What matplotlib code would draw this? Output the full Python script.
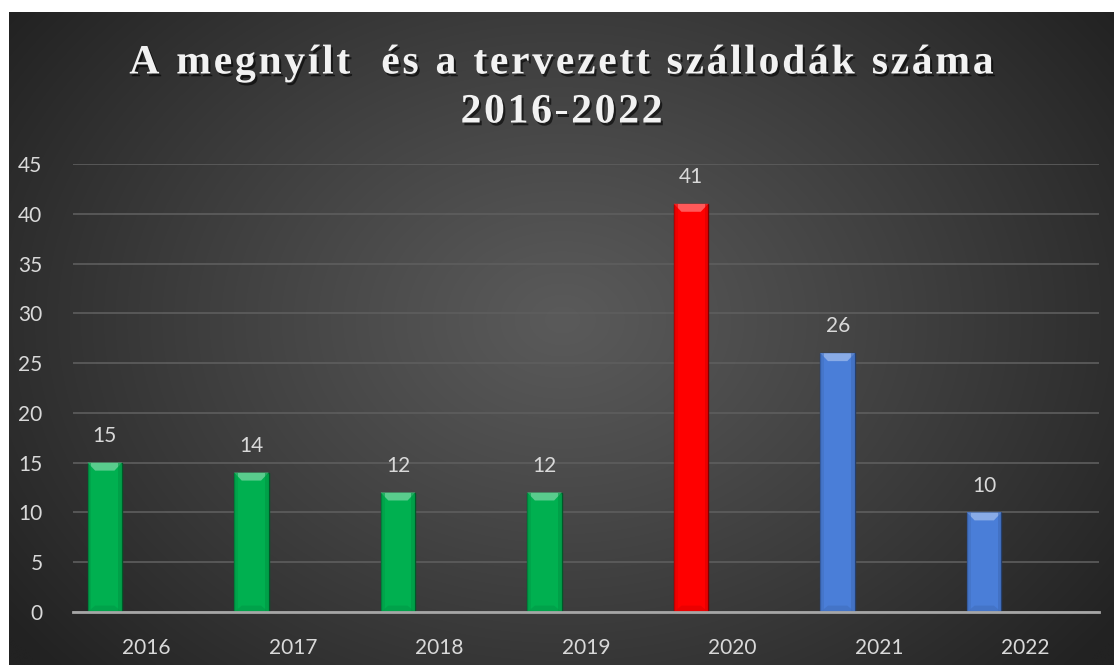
import numpy as np
import matplotlib
matplotlib.use("Agg")
import matplotlib.pyplot as plt
from matplotlib.patches import Polygon
import matplotlib.patheffects as pe
from matplotlib.colors import to_rgb

years = ["2016", "2017", "2018", "2019", "2020", "2021", "2022"]
values = [15, 14, 12, 12, 41, 26, 10]
bar_colors = ["#00B050", "#00B050", "#00B050", "#00B050", "#FF0000", "#4A7ED8", "#4A7ED8"]
title_lines = ["A megnyílt  és a tervezett szállodák száma", "2016-2022"]
yticks = [0, 5, 10, 15, 20, 25, 30, 35, 40, 45]

W, H = 1114, 665
fig = plt.figure(figsize=(W / 100, H / 100), dpi=100, facecolor="white")

# background panel with radial gradient
bg_left, bg_top = 9, 12
bg = fig.add_axes([bg_left / W, 0, 1 - bg_left / W, (H - bg_top) / H])
bg.set_axis_off()
ny, nx = 300, 500
yy, xx = np.mgrid[0:ny, 0:nx]
cx, cy = nx * 0.5, ny * 0.47
d = np.sqrt(((xx - cx) / (nx * 0.62)) ** 2 + ((yy - cy) / (ny * 0.80)) ** 2)
d = np.clip(d, 0, 1) ** 1.1
c0 = np.array(to_rgb("#5a5a5a"))
c1 = np.array(to_rgb("#222222"))
img = c0[None, None, :] * (1 - d[..., None]) + c1[None, None, :] * d[..., None]
bg.imshow(img, aspect="auto", extent=[0, 1, 0, 1], interpolation="bicubic")
bg.set_xlim(0, 1)
bg.set_ylim(0, 1)

ax = fig.add_axes([73 / W, 53 / H, (1099 - 73) / W, (612 - 164) / H])
ax.set_facecolor("none")
x = np.arange(len(years))
offset = -0.283
bw = 0.235

def lighten(c, f):
    c = np.array(to_rgb(c))
    return tuple(c + (1 - c) * f)

def darken(c, f):
    c = np.array(to_rgb(c))
    return tuple(c * (1 - f))

bars = ax.bar(x + offset, values, width=bw, color=bar_colors,
              edgecolor=[darken(c, 0.5) for c in bar_colors], linewidth=1.0, zorder=3)

# bevel effect
for b, c in zip(bars, bar_colors):
    x0 = b.get_x(); w = b.get_width(); h = b.get_height()
    bv = 0.8  # bevel height in data units
    bx = w * 0.22
    top = Polygon([[x0, h], [x0 + w, h], [x0 + w - bx, h - bv], [x0 + bx, h - bv]],
                  closed=True, facecolor=lighten(c, 0.35), edgecolor="none", zorder=4)
    ax.add_patch(top)
    bot = Polygon([[x0, 0], [x0 + w, 0], [x0 + w - bx, bv * 0.8], [x0 + bx, bv * 0.8]],
                  closed=True, facecolor=darken(c, 0.08), edgecolor="none", zorder=4)
    ax.add_patch(bot)
    ls = Polygon([[x0, 0], [x0 + bx * 0.5, 0], [x0 + bx * 0.5, h], [x0, h]],
                 closed=True, facecolor=darken(c, 0.1), edgecolor="none", zorder=4, alpha=0.6)
    rs = Polygon([[x0 + w - bx * 0.5, 0], [x0 + w, 0], [x0 + w, h], [x0 + w - bx * 0.5, h]],
                 closed=True, facecolor=darken(c, 0.15), edgecolor="none", zorder=4, alpha=0.6)
    ax.add_patch(ls); ax.add_patch(rs)

for b, v in zip(bars, values):
    ax.annotate(str(v), (b.get_x() + b.get_width() / 2, v), xytext=(0, 12),
                textcoords="offset points", ha="center", va="bottom",
                color="#d9d9d9", fontsize=15, family="Lato")

ax.set_xlim(-0.5, len(years) - 0.5)
ax.set_ylim(0, 45)
ax.set_yticks(yticks)
ax.set_yticklabels([str(t) for t in yticks])
ax.set_xticks(x)
ax.set_xticklabels(years)
ax.tick_params(axis="both", length=0, colors="#d9d9d9", labelsize=15)
ax.tick_params(axis="y", pad=22)
ax.tick_params(axis="x", pad=19)
for lab in ax.get_xticklabels() + ax.get_yticklabels():
    lab.set_family("Lato")
ax.grid(axis="y", color="#5e5e5e", linewidth=1.2, zorder=0)
ax.grid(axis="x", visible=False)
for s in ["top", "right", "left"]:
    ax.spines[s].set_visible(False)
ax.spines["bottom"].set_color("#a6a6a6")
ax.spines["bottom"].set_linewidth(2)
ax.spines["bottom"].set_zorder(5)

# title with letter spacing, drawn character by character
fig.canvas.draw()
renderer = fig.canvas.get_renderer()
tprops = dict(fontsize=30, fontweight="bold", family="Liberation Serif", color="#f2f2f2")
spacing = 2.7
shadow = [pe.withSimplePatchShadow(offset=(1.5, -2), shadow_rgbFace="black", alpha=0.6)]
for line, ycen in zip(title_lines, [59, 108]):
    widths = []
    for ch in line:
        if ch == " ":
            t = fig.text(0, 0, "n", **tprops)
            wpx = t.get_window_extent(renderer).width * 0.5
        else:
            t = fig.text(0, 0, ch, **tprops)
            wpx = t.get_window_extent(renderer).width
        t.remove()
        widths.append(wpx)
    total = sum(widths) + spacing * (len(line) - 1)
    xpos = (bg_left + W) / 2 - total / 2
    for ch, wpx in zip(line, widths):
        if ch != " ":
            fig.text(xpos / W, 1 - ycen / H, ch, ha="left", va="center_baseline",
                     path_effects=shadow, **tprops)
        xpos += wpx + spacing

fig.savefig("out.png", dpi=100, facecolor="white")
